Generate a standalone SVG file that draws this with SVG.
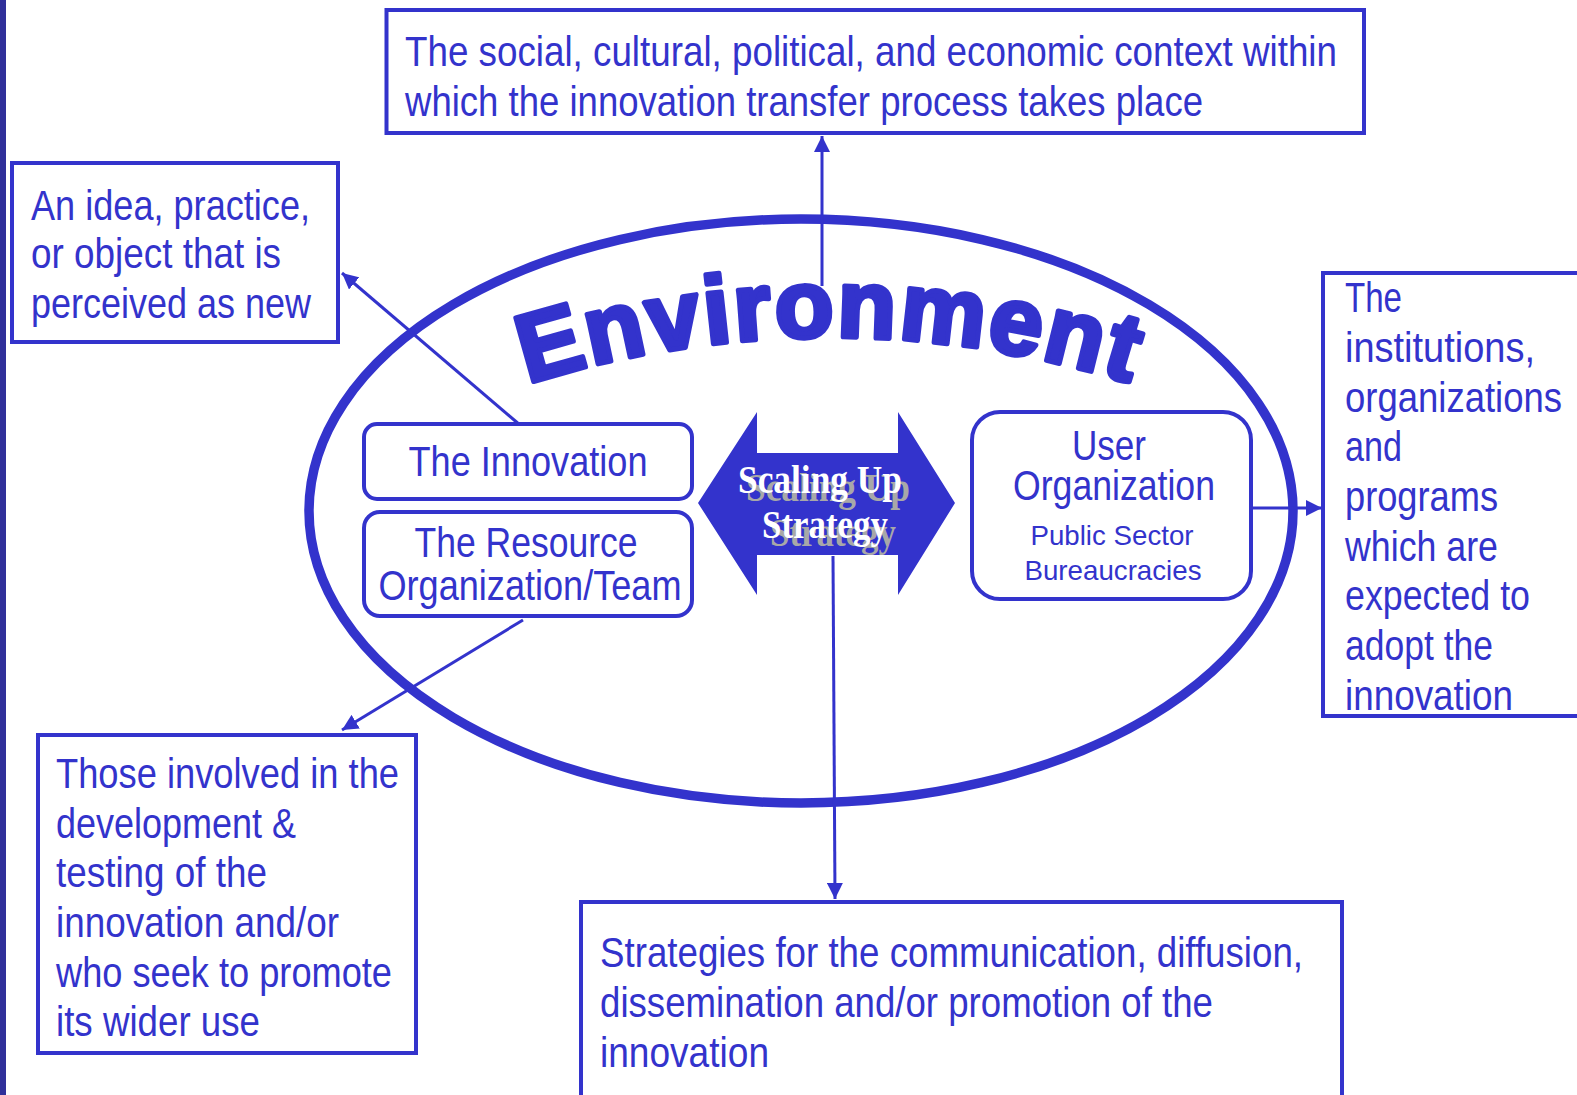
<svg xmlns="http://www.w3.org/2000/svg" width="1577" height="1095" viewBox="0 0 1577 1095">
<style>
.box{fill:#fff;stroke:#3333CC;stroke-width:4}
.t{font-family:"Liberation Sans Narrow","Liberation Sans",Arial,sans-serif;font-size:43px;fill:#3333CC}
.s{font-family:"Liberation Sans",Arial,sans-serif;font-size:28px;fill:#3333CC}
.c{text-anchor:middle}
.con{stroke:#3333CC;stroke-width:3;fill:none}
.sc{font-family:"Liberation Serif","Times New Roman",serif;font-weight:bold;font-size:40px;text-anchor:middle}
</style>
<defs>
<marker id="ah" markerUnits="userSpaceOnUse" markerWidth="18" markerHeight="16" refX="16" refY="8" orient="auto">
<path d="M0,0 L16,8 L0,16 Z" fill="#3333CC"/>
</marker>
<path id="arc" d="M 330,471 A 1000 1000 0 0 1 1330,471"/>
</defs>
<rect width="1577" height="1095" fill="#fff"/>
<rect x="0" y="0" width="6" height="1095" fill="#30309A"/>

<g id="environment">
<ellipse cx="801" cy="511" rx="492" ry="292" fill="none" stroke="#3333CC" stroke-width="9.5"/>
<text font-family="'Liberation Sans',Arial,sans-serif" font-weight="bold" font-size="96" letter-spacing="2.5" fill="#3333CC" stroke="#3333CC" stroke-width="5" stroke-linejoin="round"><textPath href="#arc" startOffset="50%" text-anchor="middle">Environment</textPath></text>
</g>

<g id="connectors">
<line class="con" x1="822" y1="286" x2="822" y2="136" marker-end="url(#ah)"/>
<line class="con" x1="520" y1="425" x2="342" y2="273" marker-end="url(#ah)"/>
<line class="con" x1="523" y1="620" x2="342" y2="730" marker-end="url(#ah)"/>
<line class="con" x1="833" y1="556" x2="835" y2="899" marker-end="url(#ah)"/>
<line class="con" x1="1253" y1="508" x2="1322" y2="508" marker-end="url(#ah)"/>
</g>

<g id="context-box">
<rect class="box" x="386.5" y="10" width="977.5" height="123"/>
<text class="t" x="405" y="66" textLength="932" lengthAdjust="spacingAndGlyphs">The social, cultural, political, and economic context within</text>
<text class="t" x="405" y="116" textLength="798" lengthAdjust="spacingAndGlyphs">which the innovation transfer process takes place</text>
</g>

<g id="idea-box">
<rect class="box" x="12" y="163" width="326" height="179"/>
<text class="t" x="31" y="220" textLength="279" lengthAdjust="spacingAndGlyphs">An idea, practice,</text>
<text class="t" x="31" y="268" textLength="250" lengthAdjust="spacingAndGlyphs">or object that is</text>
<text class="t" x="31" y="318" textLength="280" lengthAdjust="spacingAndGlyphs">perceived as new</text>
</g>

<g id="innovation">
<rect class="box" x="364" y="424" width="328" height="75" rx="13"/>
<text class="t c" x="528" y="476" textLength="239" lengthAdjust="spacingAndGlyphs">The Innovation</text>
</g>

<g id="resource">
<rect class="box" x="364" y="512" width="328" height="104" rx="16"/>
<text class="t c" x="526" y="557" textLength="223" lengthAdjust="spacingAndGlyphs">The Resource</text>
<text class="t c" x="530" y="600" textLength="303" lengthAdjust="spacingAndGlyphs">Organization/Team</text>
</g>

<g id="scaling-up">
<polygon points="698,503 757,412 757,453 898,453 898,412 955,503 898,595 898,555 757,555 757,595" fill="#3333CC"/>
<text class="sc" x="828" y="501" fill="#A8A8A8" textLength="164" lengthAdjust="spacingAndGlyphs">Scaling Up</text>
<text class="sc" x="833" y="546" fill="#A8A8A8" textLength="126" lengthAdjust="spacingAndGlyphs">Strategy</text>
<text class="sc" x="820" y="493" fill="#fff" textLength="164" lengthAdjust="spacingAndGlyphs">Scaling Up</text>
<text class="sc" x="825" y="538" fill="#fff" textLength="126" lengthAdjust="spacingAndGlyphs">Strategy</text>
</g>

<g id="user-org">
<rect class="box" x="972" y="412" width="279" height="187" rx="28"/>
<text class="t c" x="1109" y="460" textLength="74" lengthAdjust="spacingAndGlyphs">User</text>
<text class="t c" x="1114" y="500" textLength="202" lengthAdjust="spacingAndGlyphs">Organization</text>
<text class="s c" x="1112" y="545" textLength="163" lengthAdjust="spacingAndGlyphs">Public Sector</text>
<text class="s c" x="1113" y="580" textLength="177" lengthAdjust="spacingAndGlyphs">Bureaucracies</text>
</g>

<g id="institutions-box">
<rect class="box" x="1323" y="273" width="270" height="443"/>
<text class="t" x="1345" y="312" textLength="57" lengthAdjust="spacingAndGlyphs">The</text>
<text class="t" x="1345" y="362" textLength="190" lengthAdjust="spacingAndGlyphs">institutions,</text>
<text class="t" x="1345" y="412" textLength="217" lengthAdjust="spacingAndGlyphs">organizations</text>
<text class="t" x="1345" y="461" textLength="57" lengthAdjust="spacingAndGlyphs">and</text>
<text class="t" x="1345" y="511" textLength="153" lengthAdjust="spacingAndGlyphs">programs</text>
<text class="t" x="1345" y="561" textLength="153" lengthAdjust="spacingAndGlyphs">which are</text>
<text class="t" x="1345" y="610" textLength="185" lengthAdjust="spacingAndGlyphs">expected to</text>
<text class="t" x="1345" y="660" textLength="148" lengthAdjust="spacingAndGlyphs">adopt the</text>
<text class="t" x="1345" y="710" textLength="168" lengthAdjust="spacingAndGlyphs">innovation</text>
</g>

<g id="developers-box">
<rect class="box" x="38" y="735" width="378" height="318"/>
<text class="t" x="56" y="788" textLength="343" lengthAdjust="spacingAndGlyphs">Those involved in the</text>
<text class="t" x="56" y="838" textLength="240" lengthAdjust="spacingAndGlyphs">development &amp;</text>
<text class="t" x="56" y="887" textLength="211" lengthAdjust="spacingAndGlyphs">testing of the</text>
<text class="t" x="56" y="937" textLength="283" lengthAdjust="spacingAndGlyphs">innovation and/or</text>
<text class="t" x="56" y="987" textLength="336" lengthAdjust="spacingAndGlyphs">who seek to promote</text>
<text class="t" x="56" y="1036" textLength="204" lengthAdjust="spacingAndGlyphs">its wider use</text>
</g>

<g id="strategies-box">
<rect class="box" x="581" y="902" width="761" height="210"/>
<text class="t" x="600" y="967" textLength="703" lengthAdjust="spacingAndGlyphs">Strategies for the communication, diffusion,</text>
<text class="t" x="600" y="1017" textLength="613" lengthAdjust="spacingAndGlyphs">dissemination and/or promotion of the</text>
<text class="t" x="600" y="1067" textLength="169" lengthAdjust="spacingAndGlyphs">innovation</text>
</g>
</svg>
